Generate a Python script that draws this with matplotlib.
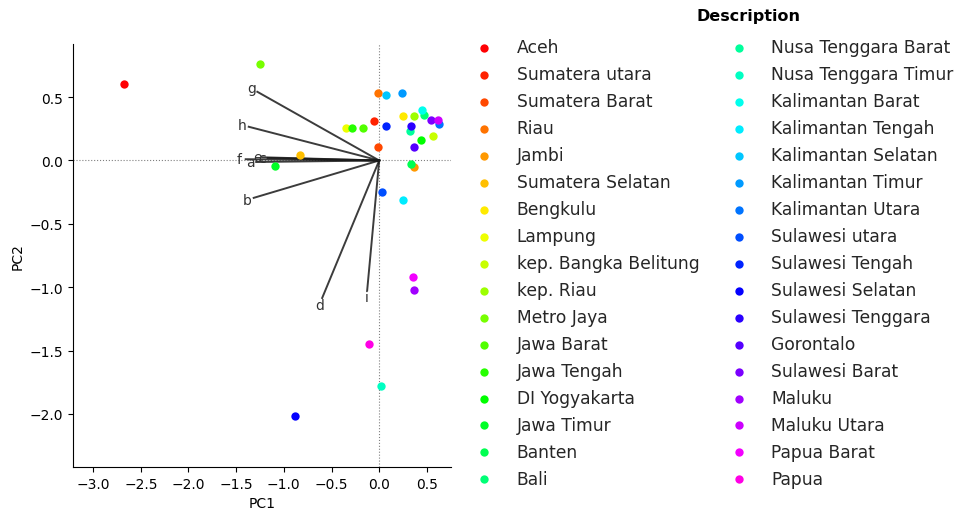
import numpy as np
import matplotlib.pyplot as plt

# Skor PCA per provinsi
provinsi = [
    "Aceh", "Sumatera utara", "Sumatera Barat", "Riau", "Jambi",
    "Sumatera Selatan", "Bengkulu", "Lampung", "kep. Bangka Belitung",
    "kep. Riau", "Metro Jaya", "Jawa Barat", "Jawa Tengah", "DI Yogyakarta",
    "Jawa Timur", "Banten", "Bali", "Nusa Tenggara Barat",
    "Nusa Tenggara Timur", "Kalimantan Barat", "Kalimantan Tengah",
    "Kalimantan Selatan", "Kalimantan Timur", "Kalimantan Utara",
    "Sulawesi utara", "Sulawesi Tengah", "Sulawesi Selatan",
    "Sulawesi Tenggara", "Gorontalo", "Sulawesi Barat", "Maluku",
    "Maluku Utara", "Papua Barat", "Papua"
]

pc1 = [
    -2.68, -0.05, -0.01, -0.01, 0.36,
    -0.83, 0.25, -0.35, 0.56,
    0.37, -1.245, -0.165, -0.29, 0.44,
    -1.09, 0.33, 0.47, 0.32,
    0.02, 0.45, 0.25,
    0.07, 0.24, 0.625,
    0.025, 0.07, -0.88,
    0.33, 0.37, 0.545, 0.36,
    0.62, 0.35, -0.11
]

pc2 = [
    0.60, 0.31, 0.105, 0.53, -0.05,
    0.047, 0.35, 0.26, 0.19,
    0.35, 0.764, 0.26, 0.26, 0.16,
    -0.045, -0.03, 0.36, 0.23,
    -1.78, 0.40, -0.31,
    0.52, 0.53, 0.29,
    -0.25, 0.27, -2.02,
    0.27, 0.105, 0.32, -1.02,
    0.32, -0.92, -1.45
]

# Loading variabel
variabel = ["a", "b", "c", "d", "e", "f", "g", "h", "i"]
load_pc1 = [-1.29, -1.316, -1.17, -0.598, -1.22, -1.40, -1.278, -1.368, -0.126]
load_pc2 = [-0.012, -0.295, 0.02, -1.085, 0.025, 0.01, 0.542, 0.266, -1.025]


def main():
    n = len(provinsi)
    warna = plt.cm.gist_rainbow(np.linspace(0, 1, n + 2)[1:-1])

    fig = plt.figure(figsize=(9.62, 5.10), dpi=100)
    ax = fig.add_axes([0.076, 0.082, 0.393, 0.83])

    for i, nama in enumerate(provinsi):
        ax.scatter(pc1[i], pc2[i], color=warna[i], s=36,
                   linewidths=0, label=nama, zorder=3)

    for i, v in enumerate(variabel):
        ax.plot([0, load_pc1[i]], [0, load_pc2[i]],
                color="#1a1a1a", linewidth=1.4, alpha=0.85, zorder=2)
        ax.text(load_pc1[i] * 1.05, load_pc2[i] * 1.05, v,
                ha="center", va="center", fontsize=10, color="#333333")

    ax.axhline(0, color="gray", linestyle=":", linewidth=0.8, zorder=1)
    ax.axvline(0, color="gray", linestyle=":", linewidth=0.8, zorder=1)

    ax.set_xlim(-3.21, 0.755)
    ax.set_ylim(-2.42, 0.92)
    ax.set_xticks([-3.0, -2.5, -2.0, -1.5, -1.0, -0.5, 0.0, 0.5])
    ax.set_yticks([-2.0, -1.5, -1.0, -0.5, 0.0, 0.5])
    ax.spines["top"].set_visible(False)
    ax.spines["right"].set_visible(False)
    ax.tick_params(labelsize=10)

    ax.set_xlabel("PC1", fontsize=10)
    ax.set_ylabel("PC2", fontsize=10)

    ax.legend(
        ncol=2,
        frameon=False,
        loc="center left",
        bbox_to_anchor=(1.002, 0.482),
        fontsize=12.3,
        labelspacing=0.525,
        handletextpad=0.9,
        columnspacing=1.3,
        labelcolor="#262626"
    )
    # judul legenda
    fig.text(0.778, 0.967, "Description", ha="center", va="center",
             fontsize=11.5, fontweight="bold")

    fig.savefig("out.png", dpi=100)
    plt.close()


if __name__ == "__main__":
    main()
